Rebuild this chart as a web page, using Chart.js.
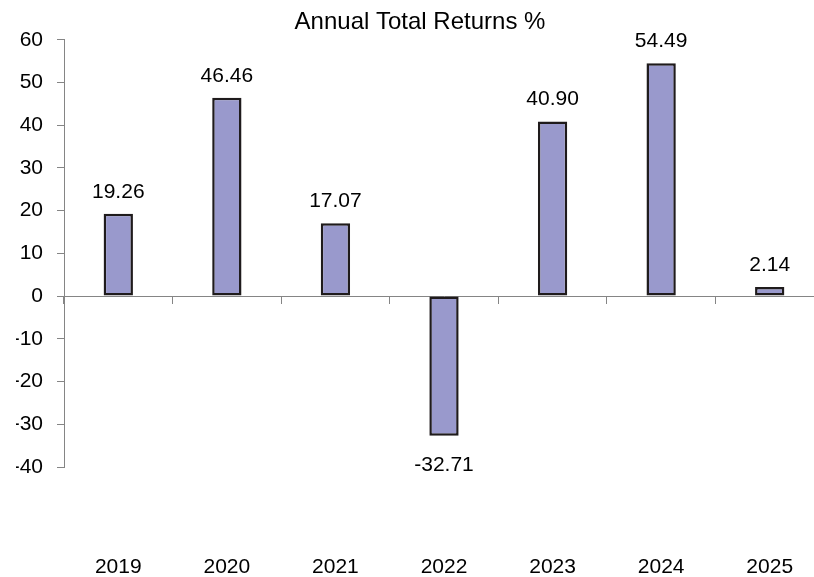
<!DOCTYPE html>
<html>
<head>
<meta charset="utf-8">
<script src="https://cdn.jsdelivr.net/npm/chart.js@4/dist/chart.umd.min.js"></script>
<style>
  html, body { margin: 0; padding: 0; background: #ffffff; overflow: hidden; }
  #wrap { width: 814px; height: 577px; overflow: hidden; position: relative; }
  #box { width: 840px; height: 577px; position: absolute; left: 0; top: 0; }
</style>
</head>
<body>
<div id="wrap"><div id="box"><canvas id="c" width="840" height="577"></canvas></div></div>
<script>
const chartTitle = 'Annual Total Returns %';
const categories = ['2019', '2020', '2021', '2022', '2023', '2024', '2025'];
const returns = [19.26, 46.46, 17.07, -32.71, 40.90, 54.49, 2.14];
const yTicks = [-40, -30, -20, -10, 0, 10, 20, 30, 40, 50, 60];

const FONT = "'Liberation Sans', Arial, sans-serif";
const AXIS_GRAY = '#858585';

const valueLabels = {
  id: 'valueLabels',
  afterDatasetsDraw(chart) {
    const ctx = chart.ctx;
    const meta = chart.getDatasetMeta(0);
    ctx.save();
    ctx.font = '21px ' + FONT;
    ctx.fillStyle = '#000000';
    ctx.textAlign = 'center';
    ctx.textBaseline = 'alphabetic';
    meta.data.forEach((bar, i) => {
      const v = returns[i];
      const txt = v.toFixed(2);
      if (v >= 0) {
        ctx.fillText(txt, bar.x, bar.y - 16);
      } else {
        ctx.fillText(txt, bar.x, bar.y + 35);
      }
    });
    ctx.restore();
  }
};

new Chart(document.getElementById('c'), {
  type: 'bar',
  data: {
    labels: categories,
    datasets: [{
      data: returns,
      backgroundColor: '#9999CC',
      borderColor: '#1F1B1C',
      borderWidth: 2.5,
      borderSkipped: false,
      categoryPercentage: 1.0,
      barPercentage: 0.27,
      xAxisID: 'x',
      yAxisID: 'y'
    }]
  },
  options: {
    responsive: false,
    animation: false,
    devicePixelRatio: 1,
    layout: { padding: { left: 16, right: 16, top: 0, bottom: 0 } },
    plugins: {
      legend: { display: false },
      tooltip: { enabled: false },
      title: {
        display: true,
        text: chartTitle,
        color: '#000000',
        font: { family: FONT, size: 24, weight: 'normal', lineHeight: 1.2 },
        padding: { top: 8, bottom: 3 }
      }
    },
    scales: {
      x: {
        type: 'category',
        position: 'bottom',
        grid: { display: false, drawTicks: false },
        border: { display: false },
        ticks: {
          color: '#000000',
          font: { family: FONT, size: 21 },
          padding: 88,
          maxRotation: 0,
          autoSkip: false
        },
        afterFit(s) { s.height = 110; s.paddingLeft = 0; s.paddingRight = 0; }
      },
      x0: {
        type: 'category',
        labels: categories,
        position: { y: 0 },
        grid: {
          display: true,
          drawOnChartArea: false,
          drawTicks: true,
          offset: true,
          tickLength: 7,
          color: AXIS_GRAY,
          lineWidth: 1
        },
        border: { display: true, color: AXIS_GRAY, width: 1 },
        ticks: { display: false },
        afterFit(s) { s.paddingLeft = 0; s.paddingRight = 0; }
      },
      y: {
        type: 'linear',
        position: 'left',
        min: -40,
        max: 60,
        afterBuildTicks(s) { s.ticks = yTicks.map(v => ({ value: v })); },
        grid: {
          display: true,
          drawOnChartArea: false,
          drawTicks: true,
          tickLength: 7,
          color: AXIS_GRAY,
          lineWidth: 1
        },
        border: { display: true, color: AXIS_GRAY, width: 1 },
        ticks: {
          color: '#000000',
          font: { family: FONT, size: 21 },
          padding: 14
        },
        afterFit(s) { s.width = 48; }
      }
    }
  },
  plugins: [valueLabels]
});
</script>
</body>
</html>
